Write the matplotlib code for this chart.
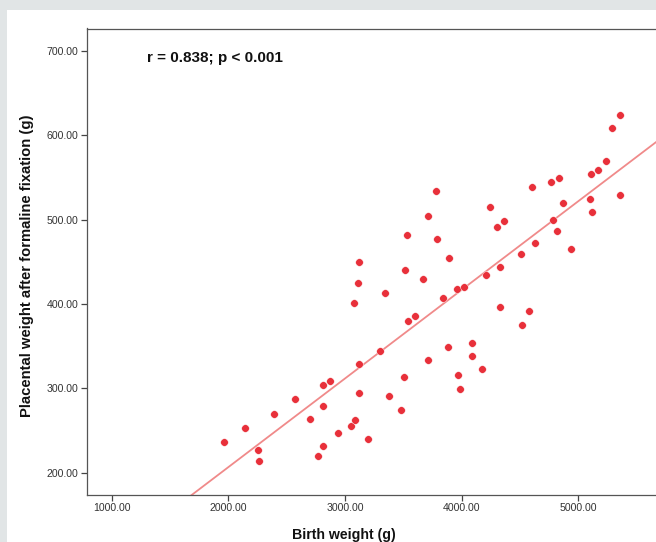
import numpy as np
import matplotlib
matplotlib.use("Agg")
import matplotlib.pyplot as plt
from matplotlib.patches import Rectangle

birth_weight = [
    1963, 2145, 2252, 2263, 2389, 2571, 2697, 2766, 2811, 2811,
    2811, 2874, 2944, 3051, 3087, 3120, 3117, 3197, 3075, 3110,
    3120, 3297, 3340, 3375, 3482, 3506, 3517, 3527, 3540, 3600,
    3671, 3714, 3713, 3780, 3787, 3843, 3879, 3892, 3962, 3967,
    3984, 4024, 4089, 4089, 4177, 4206, 4243, 4299, 4329, 4329,
    4366, 4509, 4519, 4573, 4599, 4630, 4768, 4831, 4871, 4785,
    4813, 4936, 5107, 5172, 5233, 5103, 5115, 5292, 5353, 5358,
]
placental_weight = [
    236.4, 253.0, 226.5, 214.2, 269.2, 287.0, 264.0, 220.4, 231.4, 279.3,
    303.9, 308.3, 247.0, 255.9, 262.2, 294.2, 329.1, 239.6, 400.5, 424.5,
    449.6, 343.8, 412.7, 290.9, 274.5, 313.0, 439.8, 481.3, 379.4, 385.1,
    429.9, 504.4, 333.9, 534.2, 477.4, 407.0, 348.8, 454.6, 417.9, 315.8,
    299.2, 419.7, 354.0, 338.6, 322.5, 434.5, 514.5, 491.4, 444.3, 396.9,
    498.5, 459.4, 374.8, 391.8, 539.0, 471.6, 544.2, 549.2, 519.3, 499.4,
    486.6, 465.4, 554.1, 559.0, 569.1, 523.9, 509.1, 608.8, 623.8, 529.0,
]
x_ticks = [1000, 2000, 3000, 4000, 5000]
y_ticks = [200, 300, 400, 500, 600, 700]
annotation = "r = 0.838; p < 0.001"
x_label = "Birth weight (g)"
y_label = "Placental weight after formaline fixation (g)"

plt.rcParams['font.family'] = ['Liberation Sans', 'DejaVu Sans']

W, H = 656, 542
fig = plt.figure(figsize=(W / 100, H / 100), dpi=100)
fig.patch.set_facecolor('#e1e5e6')
fig.patches.append(Rectangle((7 / W, 0), 1, (H - 10) / H, transform=fig.transFigure,
                             facecolor='white', edgecolor='none', zorder=-10))

left_px, right_px, top_px, bot_px = 87, 700, 28.5, 494.5
ax = fig.add_axes([left_px / W, (H - bot_px) / H, (right_px - left_px) / W, (bot_px - top_px) / H])
ax.set_zorder(5)
ax.set_facecolor('white')
ax.set_xlim(788, 6043)
ax.set_ylim(174.2, 726.3)

x = np.array(birth_weight, dtype=float)
y = np.array(placental_weight, dtype=float)
slope, intercept = np.polyfit(x, y, 1)
xs = np.array(ax.get_xlim())
ax.plot(xs, slope * xs + intercept, color='#f08a8a', lw=1.3, zorder=2)
ax.scatter(x, y, s=30, color='#e8303a', edgecolors='white', linewidths=0.3, zorder=3)

ax.set_xticks(x_ticks)
ax.set_yticks(y_ticks)
ax.set_xticklabels([f"{v:.2f}" for v in x_ticks])
ax.set_yticklabels([f"{v:.2f}" for v in y_ticks])
ax.tick_params(axis='both', direction='out', length=4.5, width=0.9, color='#444444',
               labelsize=7.6, labelcolor='#333333', pad=1.5)
for s in ['left', 'bottom', 'top']:
    ax.spines[s].set_color('#555555')
    ax.spines[s].set_linewidth(0.9)
ax.spines['right'].set_visible(False)

fig.text(344 / W, 1 - 535 / H, x_label, ha='center', va='center',
         fontsize=10.2, fontweight='bold', color='#111111')
fig.text(27 / W, 1 - 266 / H, y_label, ha='center', va='center', rotation=90,
         fontsize=10.7, fontweight='bold', color='#111111')
fig.text(147 / W, 1 - 58 / H, annotation, ha='left', va='center',
         fontsize=11, fontweight='bold', color='#111111', zorder=10)

fig.savefig('out.png', dpi=100, facecolor=fig.get_facecolor())
